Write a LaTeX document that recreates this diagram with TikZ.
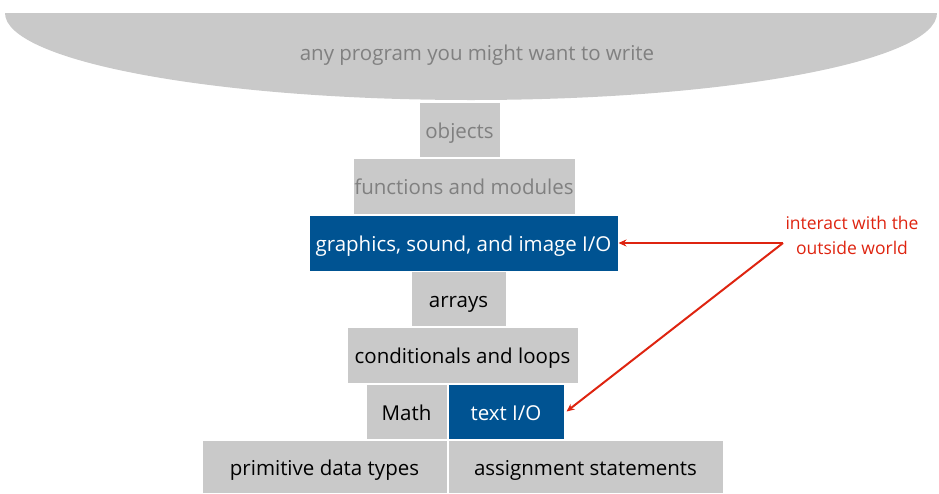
\documentclass[tikz,border=0pt]{standalone}
\usepackage{fontspec}
\setmainfont{Open Sans}
\usetikzlibrary{arrows.meta}
\definecolor{layergray}{RGB}{201,201,201}
\definecolor{layerblue}{RGB}{0,83,146}
\definecolor{fadetext}{RGB}{128,128,128}
\definecolor{notered}{RGB}{222,36,16}
\begin{document}
\begin{tikzpicture}[x=1pt,y=-1pt,
  layer/.style={draw=white,line width=1pt,fill=layergray,inner sep=0pt,
    text height=17pt,text depth=0pt,
    font=\fontsize{20.5}{24}\selectfont,text=black},
  faded/.style={layer,text=fadetext},
  iolayer/.style={layer,fill=layerblue,text=white},
  note/.style={text=notered,font=\fontsize{17.5}{25}\selectfont,align=center},
  pointer/.style={draw=notered,line width=2pt,-{Stealth[length=8pt,width=7pt]}}]
\useasboundingbox (0,0) rectangle (939,493);
% the dome of all programs
\begin{scope}
  \clip (0,13) rectangle (939,110);
  \fill[layergray] (471,13) ellipse [x radius=466, y radius=87];
\end{scope}
\node[text=fadetext,font=\fontsize{20.5}{24}\selectfont] (any) at (477,55) {any program you might want to write};
% stack of layers
\node[faded,minimum width=81pt,minimum height=55pt] (obj) at (459.5,129.5) {objects};
\node[faded,minimum width=222pt,minimum height=56pt] (fun) at (464,186) {functions and modules};
\node[iolayer,minimum width=309pt,minimum height=56pt] (gfx) at (463.5,243) {graphics, sound, and image I/O};
\node[layer,minimum width=95pt,minimum height=55pt] (arr) at (458.5,298.5) {arrays};
\node[layer,minimum width=231pt,minimum height=56pt] (cond) at (462.5,355) {conditionals and loops};
\node[layer,minimum width=81pt,minimum height=55pt] (math) at (406.5,411.5) {Math};
\node[iolayer,minimum width=116pt,minimum height=55pt] (tio) at (506,411.5) {text I/O};
\node[layer,minimum width=245pt,minimum height=53pt] (prim) at (324.5,466.5) {primitive data types};
\node[layer,minimum width=275pt,minimum height=53pt] (asg) at (585.5,466.5) {assignment statements};
% annotation
\node[note] (world) at (852,235) {interact with the\\outside world};
\coordinate (fork) at (783,243);
\draw[pointer] (fork) -- (gfx.east);
\draw[pointer] (fork) -- ([xshift=2pt]tio.east);
\end{tikzpicture}
\end{document}
